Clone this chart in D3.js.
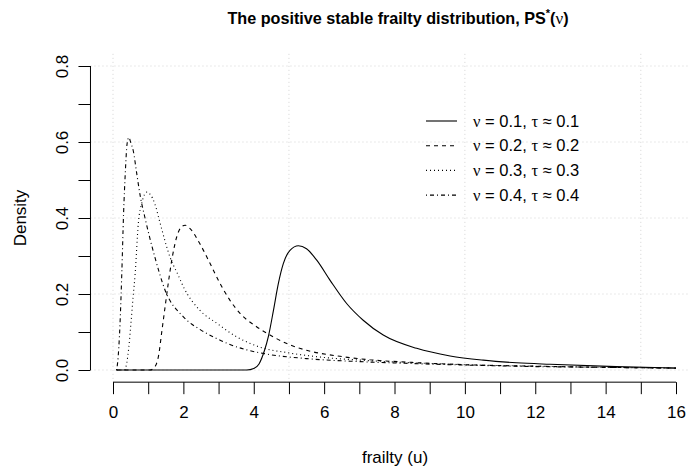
<!DOCTYPE html>
<html>
<head>
<meta charset="utf-8">
<script src="https://cdn.jsdelivr.net/npm/d3@7"></script>
<style>
  body { margin: 0; background: #fff; }
  svg { font-family: "Liberation Sans", Arial, sans-serif; }
</style>
</head>
<body>
<div id="chart-container"></div>
<script>
// values: [frailty u, density]
const nu01 = [[0.1,0],[3.8,0],[4.0,0.004],[4.15,0.016],[4.3,0.05],[4.42,0.09],[4.56,0.157],[4.7,0.228],
  [4.84,0.28],[5.03,0.315],[5.27,0.327],[5.5,0.319],[5.79,0.289],[6.17,0.236],[6.64,0.175],[7.11,0.131],
  [7.68,0.092],[8.63,0.057],[9.58,0.037],[10.52,0.026],[11.47,0.019],[12.42,0.015],[14.3,0.009],[16,0.005]];
const nu02 = [[0.1,0],[1.05,0],[1.2,0.01],[1.3,0.04],[1.38,0.096],[1.48,0.166],[1.57,0.228],[1.67,0.289],
  [1.81,0.35],[1.95,0.377],[2.05,0.381],[2.19,0.372],[2.47,0.332],[2.76,0.28],[3.04,0.228],[3.32,0.184],
  [3.61,0.149],[4.08,0.114],[4.56,0.087],[5.03,0.066],[5.5,0.052],[6.45,0.036],[7.3,0.027],[8.5,0.02],
  [10,0.014],[12,0.01],[14,0.007],[16,0.005]];
const nu03 = [[0.1,0],[0.33,0],[0.39,0.018],[0.45,0.06],[0.51,0.123],[0.57,0.19],[0.63,0.254],[0.72,0.386],
  [0.82,0.44],[0.96,0.468],[1.05,0.463],[1.19,0.437],[1.34,0.386],[1.62,0.297],[1.85,0.25],[2.0,0.219],
  [2.47,0.157],[2.95,0.123],[3.52,0.087],[4.18,0.06],[5,0.045],[6,0.033],[7.02,0.026],[8.5,0.019],
  [10,0.014],[12,0.01],[14,0.007],[16,0.005]];
const nu04 = [[0.1,0],[0.13,0.018],[0.2,0.123],[0.25,0.254],[0.3,0.41],[0.35,0.52],[0.4,0.595],[0.45,0.612],
  [0.5,0.6],[0.58,0.575],[0.67,0.52],[0.77,0.46],[0.91,0.40],[1.19,0.297],[1.48,0.21],[2.0,0.14],
  [2.5,0.105],[2.9,0.085],[3.3,0.068],[3.8,0.053],[4.3,0.043],[5.5,0.03],[7.02,0.022],[8.5,0.017],
  [10,0.013],[12,0.009],[14,0.007],[16,0.005]];

const seriesData = [nu01, nu02, nu03, nu04];
const legendNu = ["0.1", "0.2", "0.3", "0.4"];
const legendTau = ["0.1", "0.2", "0.3", "0.4"];
const dashes = [null, "4,4", "1,3", "1,3,4,3"];

const xTicks = d3.range(0, 17, 1);
const yTicks = d3.range(0, 0.81, 0.1);
const xGrid = [0, 5, 10, 15];
const yGrid = [0, 0.2, 0.4, 0.6, 0.8];

const W = 690, H = 467;
const FS = 17;
const x = d3.scaleLinear().domain([0, 16]).range([113, 676]);
const y = d3.scaleLinear().domain([0, 0.8]).range([370, 66]);
const plotL = x(-0.64), plotB = y(-0.032), plotT = y(0.832), plotR = x(16.64);

const svg = d3.select("#chart-container")
  .append("svg")
  .attr("width", W)
  .attr("height", H);

// grid
svg.append("g").selectAll("line")
  .data(xGrid).join("line")
  .attr("x1", d => x(d)).attr("x2", d => x(d))
  .attr("y1", plotT).attr("y2", plotB)
  .attr("stroke", "#d3d3d3").attr("stroke-dasharray", "1,3");
svg.append("g").selectAll("line")
  .data(yGrid).join("line")
  .attr("x1", plotL).attr("x2", plotR)
  .attr("y1", d => y(d)).attr("y2", d => y(d))
  .attr("stroke", "#d3d3d3").attr("stroke-dasharray", "1,3");

// curves
const line = d3.line()
  .x(d => x(d[0]))
  .y(d => y(d[1]))
  .curve(d3.curveMonotoneX);

seriesData.forEach((pts, i) => {
  svg.append("path")
    .datum(pts)
    .attr("fill", "none")
    .attr("stroke", "#000")
    .attr("stroke-width", 1.1)
    .attr("stroke-dasharray", dashes[i])
    .attr("d", line);
});

// x axis
const gx = svg.append("g")
  .attr("transform", `translate(0,${plotB})`)
  .call(d3.axisBottom(x).tickValues(xTicks).tickSize(12).tickPadding(12)
    .tickFormat(d => d % 2 === 0 ? d : ""));
gx.select(".domain").attr("d", `M${x(0)},0H${x(16)}`);

// y axis
const gy = svg.append("g")
  .attr("transform", `translate(${plotL},0)`)
  .call(d3.axisLeft(y).tickValues(yTicks).tickSize(12).tickPadding(0)
    .tickFormat(d => Math.round(d * 10) % 2 === 0 ? d3.format(".1f")(d) : ""));
gy.select(".domain").attr("d", `M0,${y(0)}V${y(0.8)}`);
gy.selectAll(".tick text")
  .attr("transform", "rotate(-90)")
  .attr("x", 0).attr("y", -28)
  .attr("dy", "0.35em")
  .attr("text-anchor", "middle");

svg.selectAll(".tick text").attr("font-size", FS).attr("fill", "#000")
  .attr("font-family", "Liberation Sans, Arial, sans-serif");
svg.selectAll(".tick line, .domain").attr("stroke", "#000");

// axis labels
svg.append("text")
  .attr("x", 395).attr("y", 463)
  .attr("text-anchor", "middle").attr("font-size", FS)
  .text("frailty (u)");
svg.append("text")
  .attr("transform", `translate(26,${(plotT + plotB) / 2}) rotate(-90)`)
  .attr("text-anchor", "middle").attr("font-size", FS)
  .text("Density");

// title
const title = svg.append("text")
  .attr("x", 398).attr("y", 24)
  .attr("text-anchor", "middle")
  .attr("font-size", 16.2).attr("font-weight", "bold");
title.append("tspan").text("The positive stable frailty distribution, PS");
title.append("tspan").attr("dy", -7).attr("font-size", 11).text("*");
title.append("tspan").attr("dy", 7).text("(");
title.append("tspan").attr("font-weight", "normal")
  .attr("font-family", "Liberation Serif, serif").attr("font-size", 17).text("ν");
title.append("tspan").text(")");

// legend
const legend = svg.append("g");
legendNu.forEach((n, i) => {
  const ly = 121 + i * 24.7;
  legend.append("line")
    .attr("x1", 426).attr("x2", 457)
    .attr("y1", ly).attr("y2", ly)
    .attr("stroke", "#000").attr("stroke-width", 1.1)
    .attr("stroke-dasharray", dashes[i]);
  const t = legend.append("text")
    .attr("x", 473).attr("y", ly).attr("dy", "0.35em")
    .attr("font-size", 16.5);
  t.append("tspan").attr("font-family", "Liberation Serif, serif").text("ν");
  t.append("tspan").text(" = " + n + ", ");
  t.append("tspan").attr("font-family", "Liberation Serif, serif").text("τ");
  t.append("tspan").text(" ≈ " + legendTau[i]);
});
</script>
</body>
</html>
